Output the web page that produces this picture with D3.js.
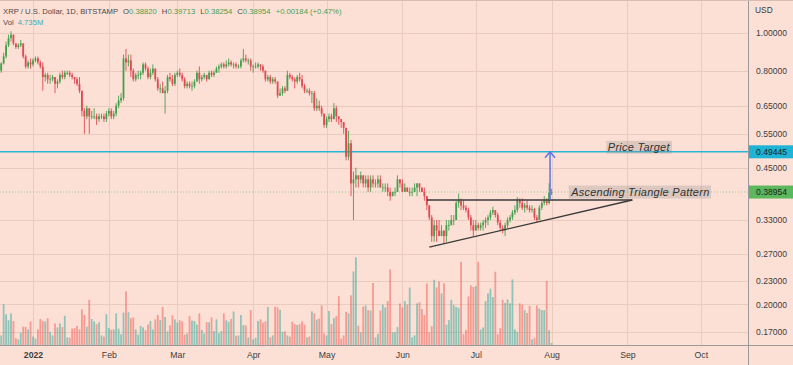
<!DOCTYPE html>
<html><head><meta charset="utf-8">
<script src="https://cdn.jsdelivr.net/npm/d3@7"></script>
<style>
body{margin:0;background:#fde0d5;}
svg{display:block;font-family:"Liberation Sans",Arial,sans-serif;}
</style>
</head><body>
<svg id="c" width="793" height="365"></svg>
<script>
// ---------- DATA ----------
const startDate = "2021-12-18";
const firstOpen = 0.79;
// daily closes (Dec 18 2021 .. Aug 1 2022)
const closes = [
 0.80,0.835,0.87,0.93,0.97,0.99,0.94,0.92,0.93,0.94,0.87,0.82,0.84,0.83,
 0.85,0.86,0.84,0.82,0.77,0.78,0.76,0.76,0.77,0.74,0.75,0.78,0.77,0.79,0.79,0.78,0.77,0.76,0.74,0.71,0.63,0.61,0.64,0.61,0.61,0.61,0.60,0.61,0.61,0.60,0.62,
 0.63,0.61,0.62,0.65,0.67,0.68,0.86,0.84,0.85,0.80,0.76,0.78,0.78,0.79,0.83,0.81,0.77,0.79,0.81,0.76,0.72,0.72,0.70,0.71,0.77,0.76,0.74,0.78,
 0.79,0.78,0.76,0.73,0.74,0.73,0.73,0.75,0.79,0.76,0.77,0.78,0.76,0.79,0.78,0.79,0.81,0.82,0.83,0.82,0.83,0.84,0.83,0.83,0.82,0.82,0.85,0.86,0.85,0.85,0.82,
 0.82,0.82,0.83,0.82,0.80,0.76,0.77,0.75,0.76,0.75,0.69,0.70,0.72,0.71,0.78,0.77,0.76,0.75,0.77,0.76,0.73,0.71,0.71,0.70,0.70,0.64,0.65,0.64,0.62,0.58,
 0.60,0.61,0.60,0.64,0.61,0.60,0.59,0.57,0.48,0.52,0.41,0.42,0.43,0.42,0.43,0.41,0.42,0.40,0.42,0.41,0.41,0.42,0.40,0.40,0.40,0.39,0.38,0.39,0.39,0.42,0.41,
 0.39,0.40,0.39,0.39,0.39,0.40,0.41,0.40,0.39,0.38,0.36,0.335,0.30,0.32,0.31,0.30,0.31,0.30,0.32,0.32,0.33,0.33,0.365,0.37,0.36,0.355,0.35,0.335,0.32,0.31,
 0.32,0.315,0.32,0.325,0.33,0.335,0.345,0.35,0.34,0.325,0.315,0.31,0.32,0.33,0.335,0.345,0.35,0.37,0.365,0.355,0.36,0.355,0.35,0.352,0.335,0.33,0.355,0.365,0.37,0.365,0.3882,
 0.38954
];
const highs = [
 0.81,0.84,0.89,0.95,0.99,1.01,0.99,0.94,0.94,0.96,0.94,0.88,0.85,0.86,
 0.86,0.87,0.87,0.85,0.84,0.79,0.79,0.78,0.78,0.77,0.76,0.79,0.80,0.80,0.80,0.80,0.79,0.77,0.77,0.77,0.71,0.64,0.65,0.64,0.63,0.64,0.62,0.62,0.62,0.62,0.63,
 0.64,0.64,0.63,0.66,0.69,0.70,0.88,0.91,0.88,0.88,0.81,0.79,0.80,0.80,0.84,0.84,0.82,0.81,0.83,0.81,0.77,0.74,0.75,0.73,0.78,0.79,0.78,0.79,
 0.80,0.81,0.79,0.77,0.75,0.75,0.75,0.76,0.80,0.82,0.78,0.79,0.78,0.80,0.80,0.80,0.82,0.83,0.84,0.84,0.85,0.86,0.85,0.84,0.84,0.83,0.86,0.91,0.88,0.86,0.86,
 0.83,0.84,0.84,0.83,0.83,0.80,0.78,0.78,0.77,0.77,0.75,0.72,0.73,0.73,0.80,0.79,0.78,0.77,0.78,0.79,0.78,0.74,0.72,0.72,0.71,0.71,0.68,0.67,0.65,0.62,
 0.61,0.62,0.62,0.66,0.65,0.61,0.60,0.59,0.57,0.56,0.53,0.44,0.45,0.43,0.44,0.43,0.43,0.43,0.43,0.43,0.42,0.43,0.43,0.41,0.41,0.41,0.40,0.39,0.40,0.43,0.42,
 0.42,0.41,0.40,0.40,0.40,0.41,0.41,0.41,0.40,0.40,0.38,0.36,0.34,0.33,0.33,0.33,0.32,0.31,0.33,0.33,0.34,0.34,0.37,0.386,0.375,0.37,0.36,0.355,0.34,0.33,
 0.33,0.325,0.325,0.33,0.335,0.34,0.35,0.357,0.35,0.345,0.33,0.32,0.325,0.335,0.34,0.35,0.36,0.378,0.375,0.375,0.365,0.37,0.36,0.36,0.355,0.34,0.36,0.37,0.38,0.375,0.41,
 0.39713
];
const lows = [
 0.78,0.79,0.83,0.86,0.92,0.95,0.93,0.91,0.91,0.92,0.86,0.81,0.81,0.81,
 0.82,0.84,0.83,0.81,0.71,0.75,0.74,0.74,0.75,0.70,0.72,0.74,0.76,0.76,0.78,0.77,0.76,0.74,0.73,0.70,0.61,0.55,0.60,0.55,0.60,0.60,0.58,0.59,0.60,0.59,0.59,
 0.61,0.60,0.60,0.61,0.64,0.66,0.67,0.80,0.82,0.77,0.75,0.75,0.76,0.76,0.78,0.80,0.76,0.76,0.78,0.75,0.71,0.70,0.70,0.62,0.70,0.75,0.73,0.73,
 0.77,0.77,0.75,0.72,0.72,0.72,0.71,0.72,0.75,0.74,0.75,0.76,0.75,0.76,0.77,0.77,0.79,0.79,0.81,0.81,0.81,0.82,0.82,0.81,0.81,0.81,0.81,0.84,0.84,0.83,0.80,
 0.79,0.81,0.81,0.80,0.79,0.75,0.75,0.74,0.74,0.74,0.68,0.69,0.69,0.70,0.71,0.76,0.75,0.72,0.74,0.75,0.72,0.70,0.70,0.69,0.66,0.63,0.63,0.63,0.61,0.57,
 0.57,0.59,0.59,0.60,0.59,0.58,0.57,0.55,0.47,0.47,0.38,0.33,0.40,0.40,0.41,0.40,0.40,0.39,0.39,0.40,0.40,0.40,0.40,0.39,0.39,0.38,0.37,0.38,0.38,0.39,0.40,
 0.39,0.39,0.39,0.38,0.38,0.39,0.38,0.39,0.39,0.37,0.35,0.33,0.29,0.29,0.29,0.30,0.30,0.287,0.29,0.31,0.32,0.32,0.33,0.355,0.35,0.35,0.345,0.33,0.31,0.30,
 0.31,0.31,0.31,0.31,0.315,0.32,0.33,0.34,0.335,0.32,0.31,0.305,0.30,0.315,0.325,0.33,0.34,0.345,0.355,0.35,0.345,0.35,0.345,0.345,0.33,0.325,0.33,0.35,0.36,0.36,0.362,
 0.38254
];
// daily volume, millions
const volumes = [
 40,
 24,102,77,62,79,60,17,14,31,46,45,39,59,21,16,39,65,60,59,67,33,24,54,44,54,45,73,19,18,41,
 42,48,39,89,75,46,113,65,59,52,57,24,21,77,42,38,39,79,41,27,81,134,82,67,69,39,26,48,44,37,
 51,60,39,64,75,62,95,70,34,49,74,64,56,62,59,26,29,72,61,60,51,79,38,29,57,57,69,35,64,29,
 35,79,62,58,65,84,23,24,75,50,49,19,87,14,18,60,64,56,59,95,19,24,96,94,88,33,34,24,21,58,52,
 50,
 52,59,51,19,21,84,79,64,66,99,29,24,85,52,67,72,122,16,24,83,79,124,184,219,48,32,96,99,87,86,
 155,19,28,86,101,94,110,189,32,32,45,
 104,94,110,101,144,19,24,104,107,90,75,154,32,47,163,144,159,129,154,51,62,113,100,95,93,208,27,38,121,149,
 145,147,208,39,44,110,129,141,120,183,27,42,113,105,114,104,164,39,33,104,101,87,80,98,14,18,99,91,87,87,
 160,37,
 4.735
];
const priceTicks = [1.0,0.8,0.65,0.55,0.45,0.33,0.27,0.23,0.20,0.17];
const monthTicks = ["2022-01-01","2022-02-01","2022-03-01","2022-04-01","2022-05-01","2022-06-01","2022-07-01","2022-08-01","2022-09-01","2022-10-01"];
const monthLabels = ["2022","Feb","Mar","Apr","May","Jun","Jul","Aug","Sep","Oct"];
const targetPrice = 0.49445;
const lastPrice = 0.38954;
const resistanceDates = ["2022-06-11","2022-09-03"], resistancePrices = [0.3716,0.3716];
const supportDates = ["2022-06-12","2022-09-03"], supportPrices = [0.281,0.3716];
const arrowDate = "2022-07-31T09:00:00Z", arrowPrices = [0.3716, 0.49445];
const headerTitle = "XRP / U.S. Dollar, 1D, BITSTAMP";
const headerOHLC = [["O","0.38820"],["H","0.39713"],["L","0.38254"],["C","0.38954"]];
const headerChange = "+0.00184 (+0.47%)";
const headerVol = "4.735M";

// ---------- CHART ----------
const W = 793, H = 365, PW = 748, PH = 345;
const svg = d3.select("#c");
const parse = d3.utcParse("%Y-%m-%d");
const t0 = parse(startDate);
const dates = closes.map((_, i) => d3.utcDay.offset(t0, i));
const opens = closes.map((c, i) => i === 0 ? firstOpen : closes[i - 1]);
const bars = closes.map((c, i) => ({d: dates[i], o: opens[i], h: highs[i], l: lows[i], c, v: volumes[i]}));

const x = d3.scaleUtc().domain([parse("2022-01-01"), parse("2022-10-01")]).range([33, 700.8]);
const y = d3.scaleLog().domain([0.1573, 1.2161]).range([PH, 0]);
const yv = d3.scaleLinear().domain([0, 250]).range([PH, PH - 100]);

svg.append("rect").attr("width", W).attr("height", H).attr("fill", "#fde0d5");
svg.append("defs").append("clipPath").attr("id", "clip")
  .append("rect").attr("width", PW).attr("height", PH);

const grid = svg.append("g").attr("stroke", "#eccbbf").attr("stroke-width", 1);
grid.selectAll(".hg").data(priceTicks).join("line")
  .attr("x1", 0).attr("x2", PW).attr("y1", d => Math.round(y(d)) + 0.5).attr("y2", d => Math.round(y(d)) + 0.5);
grid.selectAll(".vg").data(monthTicks).join("line")
  .attr("y1", 0).attr("y2", PH).attr("x1", d => Math.round(x(parse(d))) + 0.5).attr("x2", d => Math.round(x(parse(d))) + 0.5);

const plot = svg.append("g").attr("clip-path", "url(#clip)");
const bw = 1.8;
// volume
plot.append("g").selectAll("rect").data(bars).join("rect")
  .attr("x", d => x(d.d) - bw / 2).attr("width", bw)
  .attr("y", d => yv(d.v)).attr("height", d => PH - yv(d.v))
  .attr("fill", d => d.c >= d.o ? "rgba(38,166,154,0.5)" : "rgba(239,83,80,0.5)");

// cyan target line & last price dotted line
plot.append("line").attr("x1", 0).attr("x2", PW).attr("y1", y(targetPrice)).attr("y2", y(targetPrice))
  .attr("stroke", "#26b5d6").attr("stroke-width", 1.5);
plot.append("line").attr("x1", 0).attr("x2", PW).attr("y1", y(lastPrice)).attr("y2", y(lastPrice))
  .attr("stroke", "#7cbf7c").attr("stroke-width", 1).attr("stroke-dasharray", "1,2").attr("opacity", 0.7);

// candles
const up = "#45a04e", dn = "#e04a53";
const cg = plot.append("g");
cg.selectAll("line").data(bars).join("line")
  .attr("x1", d => x(d.d)).attr("x2", d => x(d.d))
  .attr("y1", d => y(d.h)).attr("y2", d => y(d.l))
  .attr("stroke", d => d.c >= d.o ? up : dn).attr("stroke-width", 0.9);
cg.selectAll("rect").data(bars).join("rect")
  .attr("x", d => x(d.d) - bw / 2).attr("width", bw)
  .attr("y", d => y(Math.max(d.o, d.c)))
  .attr("height", d => Math.max(0.8, Math.abs(y(d.o) - y(d.c))))
  .attr("fill", d => d.c >= d.o ? up : dn);

// pattern lines
const pline = d3.line().x(d => x(d[0])).y(d => y(d[1]));
const toPts = (ds, ps) => ds.map((d, i) => [parse(d), ps[i]]);
plot.append("path").attr("d", pline(toPts(resistanceDates, resistancePrices)))
  .attr("stroke", "#3a3a3a").attr("stroke-width", 1.4).attr("fill", "none");
plot.append("path").attr("d", pline(toPts(supportDates, supportPrices)))
  .attr("stroke", "#3a3a3a").attr("stroke-width", 1.4).attr("fill", "none");

// arrow
const ax = x(new Date(arrowDate)), ay0 = y(arrowPrices[0]), ay1 = y(arrowPrices[1]);
plot.append("line").attr("x1", ax).attr("x2", ax).attr("y1", ay0).attr("y2", ay1)
  .attr("stroke", "#5a72e6").attr("stroke-width", 1.5);
plot.append("path").attr("d", `M${ax - 5},${ay1 + 6}L${ax},${ay1}L${ax + 5},${ay1 + 6}`)
  .attr("stroke", "#5a72e6").attr("stroke-width", 1.5).attr("fill", "none");

// text labels with background
function tagText(txt, date, price, dy) {
  const g = svg.append("g");
  const t = g.append("text").attr("x", x(parse(date))).attr("y", y(price) + dy)
    .attr("font-size", 11).attr("font-style", "italic").attr("letter-spacing", 0.25)
    .attr("fill", "#333").text(txt);
  const b = t.node().getBBox();
  g.insert("rect", "text").attr("x", b.x - 1.5).attr("y", b.y - 0.5)
    .attr("width", b.width + 3).attr("height", b.height + 1)
    .attr("fill", "rgba(140,140,140,0.28)");
}
tagText("Price Target", "2022-08-24", targetPrice, -0.5);
tagText("Ascending Triangle Pattern", "2022-08-09", lastPrice, 4);

// axes
svg.append("line").attr("x1", PW + 0.5).attr("x2", PW + 0.5).attr("y1", 0).attr("y2", H)
  .attr("stroke", "#9a9a9a");
svg.append("line").attr("x1", 0).attr("x2", W).attr("y1", PH + 0.5).attr("y2", PH + 0.5)
  .attr("stroke", "#9a9a9a");
svg.append("line").attr("x1", 0).attr("x2", W).attr("y1", 0.5).attr("y2", 0.5)
  .attr("stroke", "#d8bcb2");

const yAxis = svg.append("g").attr("transform", `translate(${PW},0)`)
  .call(d3.axisRight(y).tickValues(priceTicks).tickFormat(d3.format(".5f")).tickSize(0).tickPadding(8));
yAxis.select(".domain").remove();
yAxis.selectAll("text").attr("font-size", 8.6).attr("fill", "#3c3c3c").attr("font-family", "Liberation Sans, Arial, sans-serif");

const xAxis = svg.append("g").attr("transform", `translate(0,${PH})`)
  .call(d3.axisBottom(x).tickValues(monthTicks.map(parse)).tickFormat((d, i) => monthLabels[i]).tickSize(0).tickPadding(7));
xAxis.select(".domain").remove();
xAxis.selectAll("text").attr("font-size", 8.7).attr("fill", "#3c3c3c").attr("font-family", "Liberation Sans, Arial, sans-serif")
  .attr("font-weight", (d, i) => i === 0 ? "bold" : "normal");

svg.append("text").attr("x", 755).attr("y", 13).attr("font-size", 8.4).attr("fill", "#3c3c3c").text("USD");

// price tags on axis
function axisTag(price, color) {
  const yy = y(price);
  svg.append("rect").attr("x", PW + 1).attr("y", yy - 6.5).attr("width", W - PW - 1).attr("height", 13).attr("fill", color);
  svg.append("text").attr("x", 756).attr("y", yy + 3).attr("font-size", 8.6).attr("fill", "#1d1d1d").text(d3.format(".5f")(price));
}
axisTag(targetPrice, "#1fb3d6");
axisTag(lastPrice, "#5cb85c");

// header
const hdr = svg.append("text").attr("x", 3).attr("y", 13.5).attr("font-size", 7.7).attr("fill", "#4a4a4a");
hdr.append("tspan").text(headerTitle);
headerOHLC.forEach(([k, v]) => {
  hdr.append("tspan").attr("dx", 5).text(k);
  hdr.append("tspan").attr("fill", "#46a052").text(v);
});
hdr.append("tspan").attr("dx", 5).attr("fill", "#46a052").text(headerChange);
const vl = svg.append("text").attr("x", 3).attr("y", 24.5).attr("font-size", 7.7).attr("fill", "#4a4a4a");
vl.append("tspan").text("Vol");
vl.append("tspan").attr("dx", 4).attr("fill", "#34aebd").text(headerVol);
</script>
</body></html>
